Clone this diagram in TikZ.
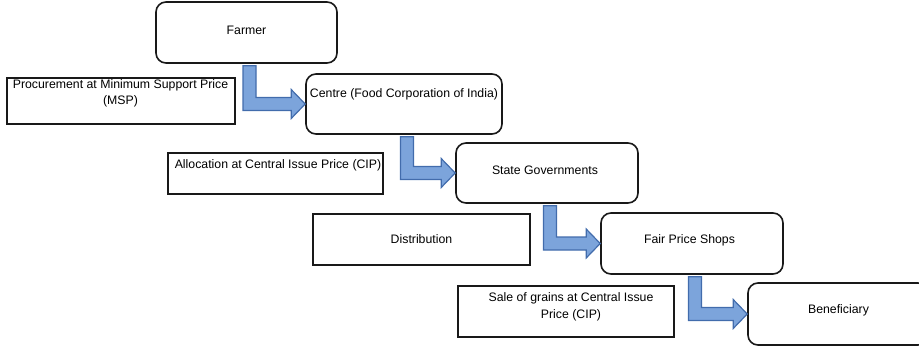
\documentclass[tikz,border=0pt]{standalone}
\usepackage{fontspec}
\setmainfont{Liberation Sans}
\usetikzlibrary{calc}

\definecolor{flowblue}{RGB}{124,164,219}
\definecolor{flowedge}{RGB}{66,108,172}

\tikzset{
  stage/.style={draw=black!90, line width=1.6pt, rounded corners=10pt, inner sep=0pt},
  note/.style={draw=black!90, line width=1.6pt, inner sep=0pt},
  txt/.style={font=\fontsize{12.3}{16.5}\selectfont, align=center, inner sep=0pt, anchor=north},
  flow/.style={fill=flowblue, draw=flowedge, line width=1.2pt}
}

% L-shaped block arrow from the bottom of one box to the left side of the next
\newcommand{\flowarrow}[2]{%
  \path[flow] let \p1=(#1.south), \p2=(#2.west) in
    (\x1-3.5pt,\y1-2pt) -- (\x1+9.5pt,\y1-2pt) -- (\x1+9.5pt,\y2+6.5pt)
    -- (\x2-14pt,\y2+6.5pt) -- (\x2-14pt,\y2+14.5pt) -- (\x2,\y2)
    -- (\x2-14pt,\y2-14.5pt) -- (\x2-14pt,\y2-6.5pt) -- (\x1-3.5pt,\y2-6.5pt) -- cycle;}

\begin{document}
\begin{tikzpicture}[x=1pt,y=-1pt]
    \useasboundingbox (0,0) rectangle (919,349);
    % boxes
    \node[stage, minimum width=181pt, minimum height=61pt] (farmer) at (246.5,32.5) {};
    \node[note, minimum width=228pt, minimum height=46pt] (proc) at (121,101) {};
    \node[stage, minimum width=196pt, minimum height=60pt] (centre) at (404,104) {};
    \node[note, minimum width=215pt, minimum height=41pt] (alloc) at (275.5,173.5) {};
    \node[stage, minimum width=182pt, minimum height=60pt] (state) at (547,173) {};
    \node[note, minimum width=217pt, minimum height=51pt] (distr) at (421.5,239.5) {};
    \node[stage, minimum width=182pt, minimum height=61pt] (shops) at (692,243.5) {};
    \node[note, minimum width=216pt, minimum height=51pt] (sale) at (566,311.5) {};
    \node[stage, minimum width=180pt, minimum height=62pt] (benef) at (838,314) {};
    % texts
    \node[txt] (farmer-t) at (246.5,26) {Farmer};
    \node[txt] (proc-t) at (120.5,79) {Procurement at Minimum Support Price\\(MSP)};
    \node[txt] (centre-t) at (404,88.5) {Centre (Food Corporation of India)};
    \node[txt] (alloc-t) at (278,159) {Allocation at Central Issue Price (CIP)};
    \node[txt] (state-t) at (545,166) {State Governments};
    \node[txt] (distr-t) at (421.5,234.5) {Distribution};
    \node[txt] (shops-t) at (689.5,234) {Fair Price Shops};
    \node[txt] (sale-t) at (571,292.5) {Sale of grains at Central Issue\\Price (CIP)};
    \node[txt] (benef-t) at (838.5,304) {Beneficiary};
    % arrows
    \flowarrow{farmer}{centre}
    \flowarrow{centre}{state}
    \flowarrow{state}{shops}
    \flowarrow{shops}{benef}
\end{tikzpicture}
\end{document}
